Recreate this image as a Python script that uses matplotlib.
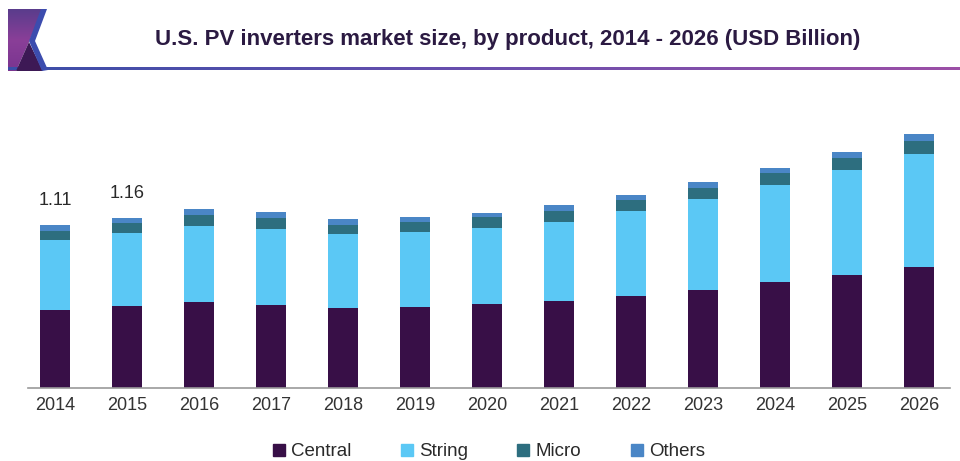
import numpy as np
import matplotlib
matplotlib.use("Agg")
import matplotlib.pyplot as plt
from matplotlib.lines import Line2D
from matplotlib.patches import Polygon

plt.rcParams['font.family'] = ['Liberation Sans', 'DejaVu Sans']

# Market size by product (USD Billion)
years = [2014, 2015, 2016, 2017, 2018, 2019, 2020, 2021, 2022, 2023, 2024, 2025, 2026]
central = [0.534, 0.560, 0.587, 0.567, 0.548, 0.555, 0.575, 0.594, 0.630, 0.669, 0.722, 0.771, 0.828]
string = [0.473, 0.500, 0.519, 0.521, 0.503, 0.512, 0.519, 0.541, 0.578, 0.621, 0.662, 0.715, 0.769]
micro = [0.068, 0.066, 0.075, 0.071, 0.061, 0.066, 0.071, 0.071, 0.073, 0.073, 0.082, 0.082, 0.091]
others = [0.035, 0.034, 0.039, 0.041, 0.039, 0.036, 0.032, 0.041, 0.038, 0.045, 0.038, 0.045, 0.046]
labeled_years = [2014, 2015]

series = ['Central', 'String', 'Micro', 'Others']
colors = ['#380f47', '#5bc8f5', '#2d6e7f', '#4a86c6']

fig = plt.figure(figsize=(9.6, 4.61), dpi=100)

# header: logo and gradient rule, drawn in pixel space
hdr = fig.add_axes([0, 0, 1, 1])
hdr.set_xlim(0, 960)
hdr.set_ylim(461, 0)
hdr.axis('off')

purple = Polygon([(8, 9), (43, 9), (29, 42), (16, 71), (8, 71)], closed=True,
                 facecolor='none', edgecolor='none')
hdr.add_patch(purple)
grad_v = np.linspace(0, 1, 64).reshape(-1, 1)
img = hdr.imshow(grad_v, extent=[8, 44, 71, 9], aspect='auto',
                 cmap=matplotlib.colors.LinearSegmentedColormap.from_list(
                     'logo', ['#5a3c8c', '#8a3f98', '#7a3590']))
img.set_clip_path(purple)
hdr.add_patch(Polygon([(29, 42), (16, 71), (43, 71)], closed=True,
                      facecolor='#3d1955', edgecolor='none'))
hdr.add_patch(Polygon([(41, 9), (47, 9), (35, 41), (48, 70), (42, 71), (29, 41)],
                      closed=True, facecolor='#3c4cae', edgecolor='none'))

grad_h = np.linspace(0, 1, 256).reshape(1, -1)
hdr.imshow(grad_h, extent=[8, 960, 70.5, 68], aspect='auto',
           cmap=matplotlib.colors.LinearSegmentedColormap.from_list(
               'rule', ['#3b4ea8', '#6a4fae', '#9c4fa6']))
hdr.set_xlim(0, 960)
hdr.set_ylim(461, 0)

fig.text(508 / 960, 1 - 39 / 461,
         'U.S. PV inverters market size, by product, 2014 - 2026 (USD Billion)',
         ha='center', va='center', fontsize=16, fontweight='bold', color='#2b1a42')

# stacked bars
ax = fig.add_axes([28 / 960, 73 / 461, 922 / 960, 300 / 461])
x = np.arange(len(years))
bottom = np.zeros(len(years))
for name, vals, c in zip(series, [central, string, micro, others], colors):
    ax.bar(x, vals, width=0.42, bottom=bottom, color=c, label=name, zorder=2)
    bottom += np.array(vals)

for yr in labeled_years:
    i = years.index(yr)
    ax.annotate(f'{bottom[i]:.2f}', (x[i], bottom[i]), xytext=(0, 11.5),
                textcoords='offset points', ha='center', va='bottom',
                fontsize=13, color='#2a2a2a')

ax.set_xlim(-0.375, 12.43)
ax.set_ylim(0, 300 / 146.5)
ax.set_xticks(x)
ax.set_xticklabels([str(y) for y in years], fontsize=13, color='#333333')
ax.tick_params(axis='x', length=0, pad=6.5)
ax.set_yticks([])
for s in ['top', 'right', 'left']:
    ax.spines[s].set_visible(False)
ax.spines['bottom'].set_color('#9a9a9a')
ax.spines['bottom'].set_linewidth(1.2)
ax.set_facecolor('none')

handles = [Line2D([], [], marker='s', linestyle='', markersize=8,
                  markerfacecolor=c, markeredgecolor=c) for c in colors]
fig.legend(handles, series, loc='center', bbox_to_anchor=(0.509, 0.02), ncol=4,
           frameon=False, fontsize=13.5, handlelength=0.7, handletextpad=0.3,
           columnspacing=2.6, labelcolor='#2a2a2a')

fig.savefig('out.png', dpi=100)
